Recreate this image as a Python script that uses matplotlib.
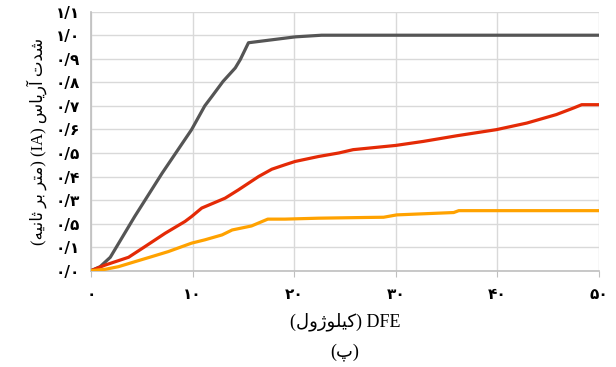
import matplotlib
matplotlib.use("Agg")
import matplotlib.pyplot as plt

# داده‌ها (از روی شکل خوانده شده)
gray_x = [0, 0.9, 1.9, 4.3, 7.0, 9.9, 11.2, 11.9, 13.0, 14.2, 14.7, 15.5, 20.1, 22.7, 50]
gray_y = [0, 0.017, 0.057, 0.23, 0.414, 0.599, 0.70, 0.74, 0.804, 0.861, 0.897, 0.968, 0.993, 1.0, 1.0]

red_x = [0, 1.4, 3.7, 5.3, 7.3, 9.25, 9.9, 10.9, 13.2, 14.5, 16.5, 17.8, 19.1, 20.1, 22.4,
         24.4, 25.8, 30.0, 32.7, 36.0, 39.9, 42.9, 45.8, 47.5, 48.3, 50]
red_y = [0, 0.024, 0.057, 0.102, 0.159, 0.209, 0.23, 0.266, 0.308, 0.343, 0.40, 0.431, 0.45,
         0.464, 0.485, 0.50, 0.514, 0.532, 0.549, 0.573, 0.599, 0.627, 0.663, 0.691, 0.705, 0.705]

orange_x = [0, 1.4, 2.7, 4.3, 6.0, 7.6, 9.9, 11.2, 12.9, 13.9, 15.8, 17.4, 19.1, 22.4, 27.0,
            28.8, 30.1, 35.7, 36.2, 50]
orange_y = [0, 0.006, 0.017, 0.038, 0.06, 0.081, 0.117, 0.131, 0.152, 0.173, 0.19, 0.219,
            0.219, 0.223, 0.226, 0.227, 0.237, 0.247, 0.255, 0.255]

x_ticks = [0, 10, 20, 30, 40, 50]
x_labels = ["۰", "۱۰", "۲۰", "۳۰", "۴۰", "۵۰"]
y_ticks = [0, 0.1, 0.2, 0.3, 0.4, 0.5, 0.6, 0.7, 0.8, 0.9, 1.0, 1.1]
y_labels = ["۰/۰", "۰/۱", "۰/۵", "۰/۳", "۰/۴", "۰/۵", "۰/۶", "۰/۷", "۰/۸", "۰/۹", "۱/۰", "۱/۱"]

# متن‌ها به ترتیب نمایشی (حروف چسبان)
ylabel_txt = ("(\uFEEA\uFEF4\uFEE7\uFE8E\uFE9B \uFEAE\uFE91 \uFEAE\uFE98\uFEE3) (IA) "
              "\uFEB1\uFE8E\uFEF3\uFEAD\uFE81 \uFE95\uFEAA\uFEB7")
xlabel_txt = "(\uFEDD\uFEED\uFB8A\uFEEE\uFEE0\uFEF4\uFB90) DFE"
caption_txt = "(\uFB56)"

fonts = ["Liberation Serif", "DejaVu Sans"]
plt.rcParams["font.family"] = fonts

fig = plt.figure(figsize=(6.16, 3.67), dpi=100)
ax = fig.add_axes([0.1477, 0.2624, 0.8247, 0.7058])

ax.plot(gray_x, gray_y, color="#555555", lw=2.3, zorder=3)
ax.plot(red_x, red_y, color="#e42a06", lw=2.3, zorder=3)
ax.plot(orange_x, orange_y, color="#ffa200", lw=2.3, zorder=3)

ax.set_xlim(0, 50)
ax.set_ylim(0, 1.1)
ax.set_xticks(x_ticks)
ax.set_xticklabels(x_labels, fontsize=11, fontweight="bold", family=["DejaVu Sans"])
ax.set_yticks(y_ticks)
ax.set_yticklabels(y_labels, fontsize=11, fontweight="bold", family=["DejaVu Sans"])
ax.grid(True, color="#d9d9d9", lw=1)
ax.set_axisbelow(True)
for s in ["top", "right"]:
    ax.spines[s].set_visible(False)
for s in ["left", "bottom"]:
    ax.spines[s].set_color("#bfbfbf")
    ax.spines[s].set_linewidth(1.2)
ax.tick_params(axis="x", length=4, color="#bfbfbf", pad=8)
ax.tick_params(axis="y", length=0, pad=8)

ax.set_ylabel(ylabel_txt, fontsize=12, labelpad=6)
ax.set_xlabel(xlabel_txt, fontsize=13, labelpad=7)
fig.text(0.5 * (0.1477 + 0.9724), 0.04, caption_txt, ha="center", va="center", fontsize=13)

fig.savefig("out.png", dpi=100)
